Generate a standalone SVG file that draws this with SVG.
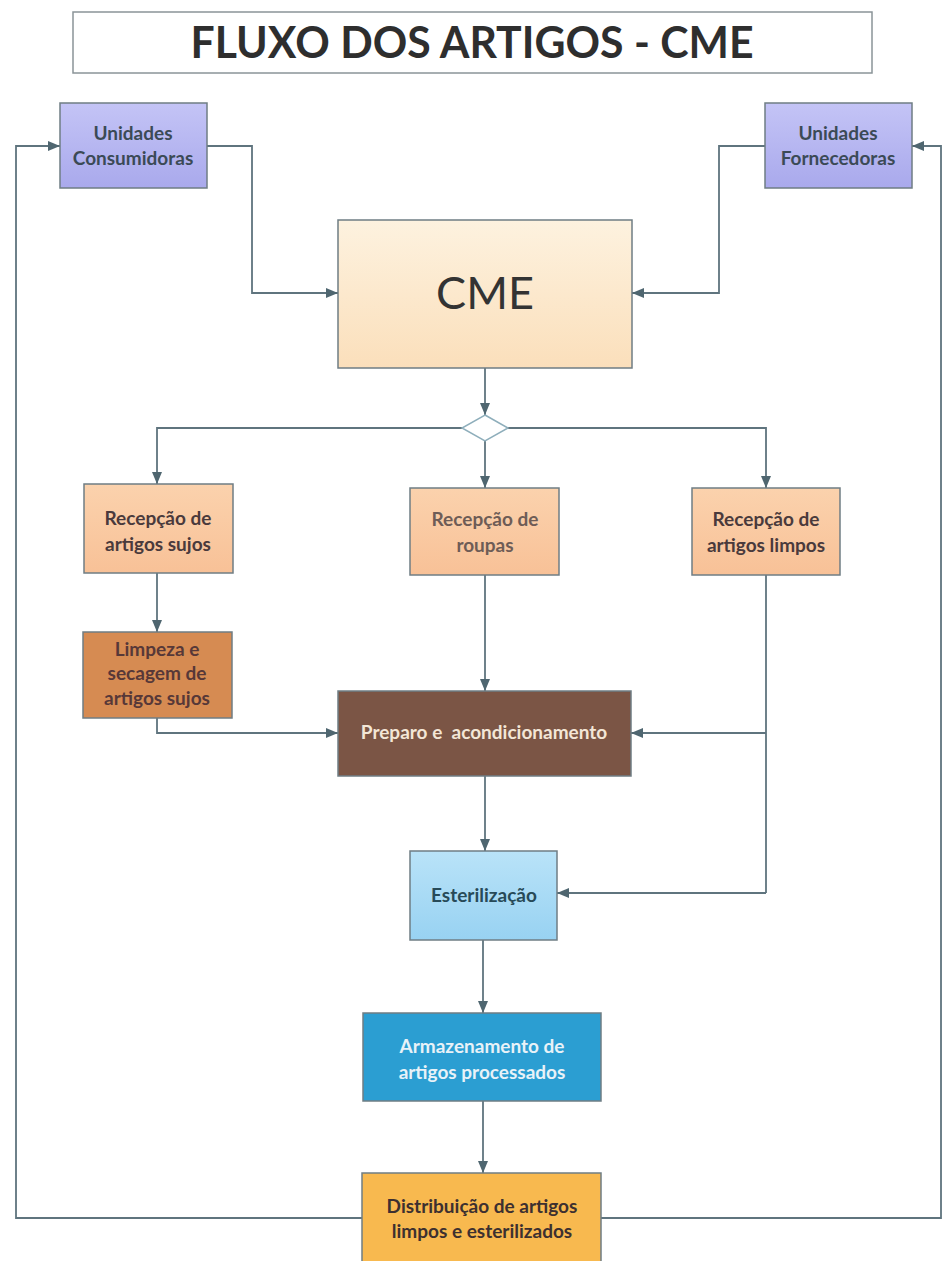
<svg xmlns="http://www.w3.org/2000/svg" width="942" height="1261" viewBox="0 0 942 1261">
<defs>
<linearGradient id="gLav" x1="0" y1="0" x2="0" y2="1"><stop offset="0" stop-color="#c4c4f6"/><stop offset="1" stop-color="#a9a9ec"/></linearGradient>
<linearGradient id="gCme" x1="0" y1="0" x2="0" y2="1"><stop offset="0" stop-color="#fdf2df"/><stop offset="1" stop-color="#fbdfbb"/></linearGradient>
<linearGradient id="gPeach" x1="0" y1="0" x2="0" y2="1"><stop offset="0" stop-color="#fbd2ad"/><stop offset="1" stop-color="#f8c197"/></linearGradient>
<linearGradient id="gEst" x1="0" y1="0" x2="0" y2="1"><stop offset="0" stop-color="#b9e3f8"/><stop offset="1" stop-color="#98d2f2"/></linearGradient>
<marker id="arr" viewBox="0 0 12 10" refX="12" refY="5" markerWidth="12" markerHeight="10" markerUnits="userSpaceOnUse" orient="auto">
<path d="M0,0 L12,5 L0,10 Z" fill="#4f6670"/>
</marker>
<style>
.box{stroke:#6f7d84;stroke-width:1.5}
.c{fill:none;stroke:#5f747e;stroke-width:1.8}
.a{marker-end:url(#arr)}
.t{font-family:Lato,"Open Sans","Liberation Sans",sans-serif;font-weight:bold;font-size:19px;text-anchor:middle}
</style>
</defs>
<rect width="942" height="1261" fill="#ffffff"/>

<g id="title">
<rect x="73" y="12" width="799" height="61" fill="#ffffff" stroke="#8a9498" stroke-width="1.5"/>
<text x="472" y="58" font-family="Lato,'Open Sans','Liberation Sans',sans-serif" font-weight="bold" font-size="44" fill="#2e2e2e" text-anchor="middle" textLength="563" lengthAdjust="spacingAndGlyphs">FLUXO DOS ARTIGOS - CME</text>
</g>

<g id="connectors">
<path class="c a" d="M207,146 H252 V293 H338"/>
<path class="c a" d="M765,146 H719 V293 H632"/>
<path class="c a" d="M485,368 V415"/>
<path class="c a" d="M462,428 H157 V484"/>
<path class="c a" d="M485,441 V488"/>
<path class="c a" d="M508,428 H766 V488"/>
<path class="c a" d="M157,573 V632"/>
<path class="c a" d="M157,718 V733 H338"/>
<path class="c a" d="M485,575 V691"/>
<path class="c" d="M766,575 V893"/>
<path class="c a" d="M766,733 H631"/>
<path class="c a" d="M766,893 H557"/>
<path class="c a" d="M485,776 V851"/>
<path class="c a" d="M483,940 V1013"/>
<path class="c a" d="M483,1101 V1173"/>
<path class="c a" d="M362,1218 H16 V146 H60"/>
<path class="c a" d="M601,1218 H941 V146 H912"/>
</g>

<g id="consumidoras">
<rect class="box" x="60" y="103" width="147" height="85" fill="url(#gLav)"/>
<text class="t" x="133" y="140" fill="#3b4a56" font-size="18">Unidades</text>
<text class="t" x="133" y="165" fill="#3b4a56" font-size="18">Consumidoras</text>
</g>

<g id="fornecedoras">
<rect class="box" x="765" y="103" width="147" height="85" fill="url(#gLav)"/>
<text class="t" x="838" y="140" fill="#3b4a56" font-size="18">Unidades</text>
<text class="t" x="838" y="165" fill="#3b4a56" font-size="18">Fornecedoras</text>
</g>

<g id="cme">
<rect class="box" x="338" y="220" width="294" height="148" fill="url(#gCme)"/>
<text x="485" y="309" font-family="Lato,'Open Sans','Liberation Sans',sans-serif" font-size="45" fill="#333333" text-anchor="middle">CME</text>
</g>

<g id="decisao">
<path d="M485,415 L508,428 L485,441 L462,428 Z" fill="#ffffff" stroke="#8eaebb" stroke-width="1.5"/>
</g>

<g id="recepcao-sujos">
<rect class="box" x="84" y="484" width="149" height="89" fill="url(#gPeach)"/>
<text class="t" x="158" y="525" fill="#4a3a3c">Recepção de</text>
<text class="t" x="158" y="551" fill="#4a3a3c">artigos sujos</text>
</g>

<g id="recepcao-roupas">
<rect class="box" x="410" y="488" width="149" height="87" fill="url(#gPeach)"/>
<text class="t" x="485" y="526" fill="#6e5c56">Recepção de</text>
<text class="t" x="485" y="552" fill="#6e5c56">roupas</text>
</g>

<g id="recepcao-limpos">
<rect class="box" x="692" y="488" width="148" height="87" fill="url(#gPeach)"/>
<text class="t" x="766" y="526" fill="#4a3a3c">Recepção de</text>
<text class="t" x="766" y="552" fill="#4a3a3c">artigos limpos</text>
</g>

<g id="limpeza">
<rect class="box" x="83" y="632" width="149" height="86" fill="#d68b52"/>
<text class="t" x="157" y="656" fill="#573838" font-size="17">Limpeza e</text>
<text class="t" x="157" y="680" fill="#573838" font-size="17">secagem de</text>
<text class="t" x="157" y="705" fill="#573838" font-size="17">artigos sujos</text>
</g>

<g id="preparo">
<rect class="box" x="338" y="691" width="293" height="85" fill="#7b5545"/>
<text class="t" x="484" y="739" fill="#f3e6d6" xml:space="preserve">Preparo e  acondicionamento</text>
</g>

<g id="esterilizacao">
<rect class="box" x="410" y="851" width="147" height="89" fill="url(#gEst)"/>
<text class="t" x="484" y="902" fill="#274a58">Esterilização</text>
</g>

<g id="armazenamento">
<rect class="box" x="363" y="1013" width="238" height="88" fill="#2b9ed2"/>
<text class="t" x="482" y="1053" fill="#e8f2f8">Armazenamento de</text>
<text class="t" x="482" y="1079" fill="#e8f2f8">artigos processados</text>
</g>

<g id="distribuicao">
<rect class="box" x="362" y="1173" width="239" height="92" fill="#f8b94f"/>
<text class="t" x="482" y="1213" fill="#3d3030">Distribuição de artigos</text>
<text class="t" x="482" y="1238" fill="#3d3030">limpos e esterilizados</text>
</g>
</svg>
